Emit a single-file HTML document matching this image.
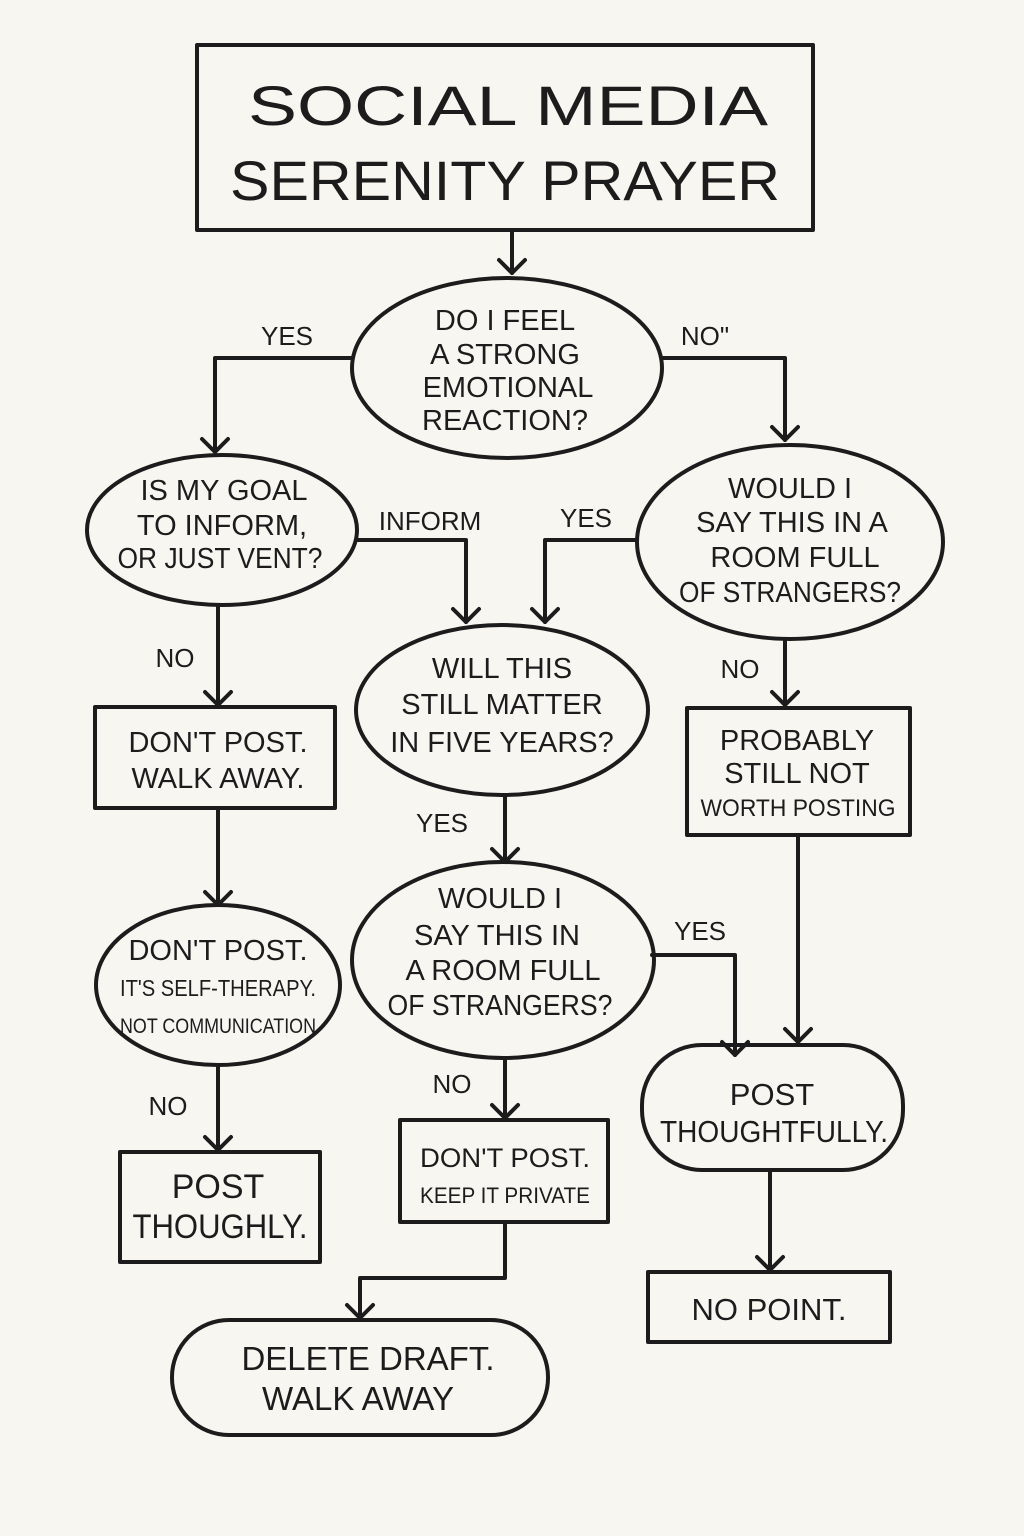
<!DOCTYPE html>
<html><head><meta charset="utf-8"><style>
html,body{margin:0;padding:0;background:#f8f6f1;}
svg{display:block}
text{font-family:"Liberation Sans",sans-serif;fill:#1c1c1c;text-anchor:middle;}
</style></head><body>
<svg width="1024" height="1536" viewBox="0 0 1024 1536" xmlns="http://www.w3.org/2000/svg">
<g fill="none" stroke="#1c1c1c" stroke-width="4" stroke-linecap="round" stroke-linejoin="round">
<rect x="197" y="45" width="616" height="185"/>
<ellipse cx="507" cy="368" rx="155" ry="90"/>
<ellipse cx="222" cy="530" rx="135" ry="75"/>
<ellipse cx="790" cy="542" rx="153" ry="97"/>
<rect x="95" y="707" width="240" height="101"/>
<ellipse cx="218" cy="985" rx="122" ry="80"/>
<rect x="120" y="1152" width="200" height="110"/>
<ellipse cx="502" cy="710" rx="146" ry="85"/>
<ellipse cx="503" cy="960" rx="151" ry="98"/>
<rect x="400" y="1120" width="208" height="102"/>
<rect x="172" y="1320" width="376" height="115" rx="57"/>
<rect x="687" y="708" width="223" height="127"/>
<rect x="642" y="1045" width="261" height="125" rx="60"/>
<rect x="648" y="1272" width="242" height="70"/>
<path d="M512 230 V273"/><path d="M499 260 L512 273 L525 260"/>
<path d="M352 358 H215 V452"/><path d="M202 439 L215 452 L228 439"/>
<path d="M662 358 H785 V440"/><path d="M772 427 L785 440 L798 427"/>
<path d="M357 540 H466 V622"/><path d="M453 609 L466 622 L479 609"/>
<path d="M637 540 H545 V622"/><path d="M532 609 L545 622 L558 609"/>
<path d="M218 605 V705"/><path d="M205 692 L218 705 L231 692"/>
<path d="M218 808 V905"/><path d="M205 892 L218 905 L231 892"/>
<path d="M218 1065 V1150"/><path d="M205 1137 L218 1150 L231 1137"/>
<path d="M505 795 V862"/><path d="M492 849 L505 862 L518 849"/>
<path d="M652 955 H735 V1055"/><path d="M722 1042 L735 1055 L748 1042"/>
<path d="M505 1058 V1118"/><path d="M492 1105 L505 1118 L518 1105"/>
<path d="M505 1222 V1278 H360 V1318"/><path d="M347 1305 L360 1318 L373 1305"/>
<path d="M785 640 V705"/><path d="M772 692 L785 705 L798 692"/>
<path d="M798 835 V1042"/><path d="M785 1029 L798 1042 L811 1029"/>
<path d="M770 1170 V1270"/><path d="M757 1257 L770 1270 L783 1257"/>
</g>
<text x="508" y="125" font-size="56" textLength="520" lengthAdjust="spacingAndGlyphs">SOCIAL MEDIA</text>
<text x="505" y="200" font-size="56" textLength="550" lengthAdjust="spacingAndGlyphs">SERENITY PRAYER</text>
<g font-size="29">
<text x="505" y="330">DO I FEEL</text>
<text x="505" y="364">A STRONG</text>
<text x="508" y="397">EMOTIONAL</text>
<text x="505" y="430">REACTION?</text>
<text x="287" y="345" font-size="26">YES</text>
<text x="705" y="345" font-size="26">NO"</text>
<text x="224" y="500">IS MY GOAL</text>
<text x="222" y="535">TO INFORM,</text>
<text x="220" y="568" textLength="205" lengthAdjust="spacingAndGlyphs">OR JUST VENT?</text>
<text x="430" y="530" font-size="26">INFORM</text>
<text x="586" y="527" font-size="26">YES</text>
<text x="790" y="498">WOULD I</text>
<text x="792" y="532">SAY THIS IN A</text>
<text x="795" y="567">ROOM FULL</text>
<text x="790" y="602" textLength="222" lengthAdjust="spacingAndGlyphs">OF STRANGERS?</text>
<text x="175" y="667" font-size="26">NO</text>
<text x="218" y="752">DON'T POST.</text>
<text x="218" y="788">WALK AWAY.</text>
<text x="218" y="960">DON'T POST.</text>
<text x="218" y="996" font-size="23" textLength="196" lengthAdjust="spacingAndGlyphs">IT'S SELF-THERAPY.</text>
<text x="218" y="1033" font-size="21" textLength="196" lengthAdjust="spacingAndGlyphs">NOT COMMUNICATION</text>
<text x="168" y="1115" font-size="26">NO</text>
<text x="218" y="1198" font-size="34">POST</text>
<text x="220" y="1238" font-size="34" textLength="175" lengthAdjust="spacingAndGlyphs">THOUGHLY.</text>
<text x="502" y="678">WILL THIS</text>
<text x="502" y="714">STILL MATTER</text>
<text x="502" y="752">IN FIVE YEARS?</text>
<text x="442" y="832" font-size="26">YES</text>
<text x="500" y="908">WOULD I</text>
<text x="497" y="945">SAY THIS IN</text>
<text x="503" y="980">A ROOM FULL</text>
<text x="500" y="1015" textLength="225" lengthAdjust="spacingAndGlyphs">OF STRANGERS?</text>
<text x="700" y="940" font-size="26">YES</text>
<text x="452" y="1093" font-size="26">NO</text>
<text x="505" y="1167" font-size="27" textLength="170" lengthAdjust="spacingAndGlyphs">DON'T POST.</text>
<text x="505" y="1203" font-size="22" textLength="170" lengthAdjust="spacingAndGlyphs">KEEP IT PRIVATE</text>
<text x="368" y="1370" font-size="33">DELETE DRAFT.</text>
<text x="358" y="1410" font-size="33">WALK AWAY</text>
<text x="740" y="678" font-size="26">NO</text>
<text x="797" y="750">PROBABLY</text>
<text x="797" y="783">STILL NOT</text>
<text x="798" y="816" font-size="24" textLength="195" lengthAdjust="spacingAndGlyphs">WORTH POSTING</text>
<text x="772" y="1105" font-size="31">POST</text>
<text x="774" y="1142" font-size="31" textLength="228" lengthAdjust="spacingAndGlyphs">THOUGHTFULLY.</text>
<text x="769" y="1320" font-size="31">NO POINT.</text>
</g>
</svg>
</body></html>
